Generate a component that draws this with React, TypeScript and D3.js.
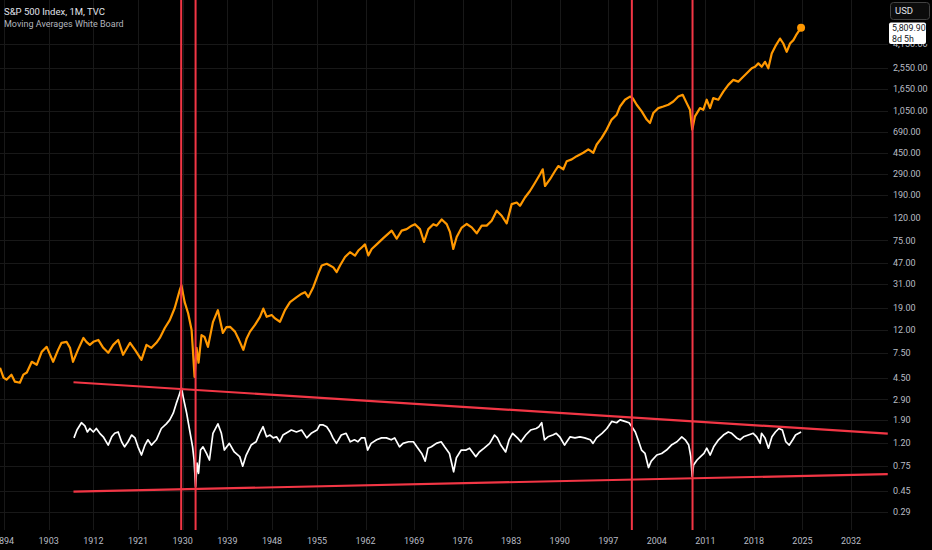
import { useEffect, useRef } from 'react'
import * as d3 from 'd3'

// S&P 500 monthly close (decimal year, index level)
const spx: [number, number][] = [
  [1893.2, 5.54], [1893.9, 4.53], [1894.5, 4.34], [1895.5, 4.81], [1896.2, 4.17], [1897.2, 4.08],
  [1897.9, 4.81], [1898.6, 5.03], [1899.6, 6.26], [1900.6, 5.89], [1901.6, 7.67], [1902.6, 8.5],
  [1903.3, 7.22], [1903.9, 6.26], [1904.9, 7.99], [1905.6, 9.23], [1906.6, 9.42], [1907.3, 8.33],
  [1907.9, 6.26], [1908.9, 7.99], [1910.0, 10.2], [1910.6, 9.42], [1911.3, 8.85], [1912.0, 9.42],
  [1913.0, 9.79], [1914.0, 8.33], [1915.0, 7.52], [1916.0, 8.85], [1917.0, 9.79], [1918.0, 7.22],
  [1919.4, 9.23], [1920.4, 7.99], [1921.7, 6.52], [1922.7, 8.85], [1923.7, 8.33], [1924.7, 9.23],
  [1925.4, 10.2], [1926.4, 12.5], [1927.4, 14.7], [1928.4, 18.8], [1929.4, 27.0], [1929.75, 29.9],
  [1930.4, 21.2], [1931.1, 16.9], [1931.8, 12.0], [1932.4, 4.6], [1932.8, 8.33], [1933.2, 6.14],
  [1933.8, 10.8], [1934.4, 10.4], [1935.1, 8.5], [1936.1, 14.1], [1937.1, 18.0], [1938.1, 11.3],
  [1938.8, 12.7], [1939.54, 12.8], [1940.54, 11.6], [1941.21, 10.1], [1942.22, 7.99], [1942.9, 10.1],
  [1943.57, 11.6], [1944.57, 13.3], [1945.58, 15.7], [1946.25, 18.6], [1946.93, 15.7], [1947.94, 16.3],
  [1948.47, 15.2], [1949.24, 14.2], [1950.02, 18.0], [1950.8, 21.2], [1951.84, 23.5], [1952.62, 25.2],
  [1953.13, 26.0], [1953.65, 23.5], [1954.42, 28.8], [1955.19, 38.0], [1955.68, 44.9], [1956.4, 46.5],
  [1956.87, 44.9], [1957.35, 43.2], [1957.84, 39.2], [1958.32, 44.9], [1959.04, 53.4], [1959.76, 58.9],
  [1960.48, 55.0], [1960.96, 60.9], [1961.45, 64.9], [1961.92, 69.1], [1962.4, 55.0], [1962.89, 62.9],
  [1963.61, 69.1], [1964.56, 78.6], [1965.77, 91.5], [1966.49, 77.6], [1967.21, 91.5], [1967.93, 94.4],
  [1968.66, 101.3], [1969.13, 104.5], [1969.85, 94.4], [1970.43, 72.6], [1971.05, 94.4], [1971.77, 104.5],
  [1972.26, 101.3], [1972.98, 115], [1973.7, 104.5], [1974.18, 88.8], [1974.65, 62.9], [1975.14, 80.4],
  [1975.87, 97.5], [1976.59, 104.9], [1977.31, 97.9], [1978.03, 86.7], [1978.75, 101.4], [1979.47, 101.4],
  [1980.19, 112.2], [1980.91, 137.5], [1981.63, 124.1], [1982.35, 106.2], [1983.07, 157.5], [1983.8, 162.7],
  [1984.27, 152.1], [1984.99, 180.2], [1985.71, 206], [1986.44, 244], [1987.16, 290], [1987.55, 321],
  [1987.88, 228], [1988.6, 262], [1989.32, 310], [1989.79, 343], [1990.52, 321], [1991.01, 379],
  [1991.73, 393], [1992.45, 420], [1993.4, 450], [1994.12, 482], [1994.84, 450], [1995.33, 533],
  [1996.05, 610], [1996.77, 723], [1997.49, 887], [1998.22, 981], [1998.69, 1160], [1999.41, 1331],
  [2000.13, 1421], [2000.52, 1375], [2001.1, 1202], [2001.82, 1048], [2002.54, 887], [2003.02, 827],
  [2003.49, 1014], [2004.21, 1122], [2004.94, 1160], [2005.66, 1202], [2006.38, 1284], [2007.1, 1421],
  [2007.73, 1473], [2008.31, 1242], [2008.78, 1086], [2009.11, 723], [2009.5, 947], [2010.22, 1122],
  [2010.7, 1084], [2011.19, 1331], [2011.67, 1122], [2012.14, 1375], [2012.87, 1331], [2013.59, 1573],
  [2014.31, 1805], [2015.03, 1998], [2015.75, 1927], [2016.24, 2065], [2016.97, 2286], [2017.69, 2531],
  [2018.17, 2614], [2018.64, 2801], [2019.13, 2614], [2019.6, 2893], [2020.08, 2531], [2020.57, 3432],
  [2021.19, 4072], [2021.77, 4655], [2022.24, 4205], [2022.73, 3545], [2023.21, 4205], [2023.69, 4506],
  [2024.08, 4988], [2024.8, 5809.9],
]

// "Moving Averages White Board" ratio line
const ratio: [number, number][] = [
  [1908.1, 1.32], [1908.7, 1.55], [1909.6, 1.8], [1910.3, 1.69], [1910.8, 1.49], [1911.3, 1.6],
  [1912.0, 1.49], [1912.6, 1.6], [1913.3, 1.45], [1914.0, 1.35], [1915.0, 1.14], [1915.7, 1.35],
  [1916.3, 1.45], [1917.0, 1.49], [1917.7, 1.22], [1918.3, 1.1], [1919.0, 1.22], [1919.7, 1.4],
  [1920.4, 1.32], [1921.0, 1.1], [1921.7, 0.93], [1922.4, 1.14], [1923.0, 1.27], [1923.7, 1.14],
  [1924.7, 1.27], [1925.7, 1.6], [1926.7, 1.76], [1927.4, 1.91], [1928.1, 2.19], [1928.7, 2.66],
  [1929.3, 3.18], [1929.75, 3.66], [1930.1, 3.06], [1930.8, 2.19], [1931.4, 1.55], [1932.0, 1.1],
  [1932.3, 0.84], [1932.6, 0.49], [1932.9, 0.79], [1933.2, 0.64], [1933.6, 1.03], [1934.1, 1.1],
  [1934.8, 0.96], [1935.4, 0.84], [1936.1, 1.45], [1937.1, 1.76], [1937.8, 1.45], [1938.4, 1.03],
  [1939.4, 1.18], [1940.4, 0.99], [1941.5, 0.9], [1942.1, 0.74], [1942.8, 0.93], [1943.8, 1.14],
  [1944.8, 1.22], [1945.5, 1.45], [1946.2, 1.66], [1946.9, 1.35], [1947.6, 1.4], [1948.2, 1.32],
  [1948.7, 1.35], [1949.2, 1.22], [1949.7, 1.4], [1950.5, 1.49], [1951.0, 1.55], [1951.8, 1.49],
  [1952.6, 1.55], [1953.4, 1.32], [1954.1, 1.45], [1955.0, 1.55], [1955.4, 1.72], [1955.9, 1.72],
  [1956.4, 1.66], [1956.9, 1.49], [1957.3, 1.32], [1957.8, 1.18], [1958.5, 1.4], [1959.2, 1.45],
  [1959.8, 1.22], [1960.4, 1.27], [1960.9, 1.22], [1961.4, 1.32], [1961.9, 1.32], [1962.3, 1.03],
  [1962.8, 1.18], [1963.6, 1.27], [1964.3, 1.32], [1965.0, 1.32], [1965.7, 1.27], [1966.2, 1.32],
  [1966.9, 1.1], [1967.4, 1.18], [1968.2, 1.22], [1968.9, 1.22], [1969.4, 1.1], [1970.1, 0.96],
  [1970.6, 0.82], [1971.0, 1.07], [1971.5, 1.1], [1972.2, 1.18], [1972.9, 1.22], [1973.4, 1.1],
  [1974.1, 0.96], [1974.7, 0.66], [1975.1, 0.88], [1975.8, 1.03], [1976.5, 1.03], [1977.0, 1.07],
  [1977.4, 0.99], [1977.9, 0.9], [1978.4, 0.99], [1979.1, 1.07], [1979.9, 1.18], [1980.6, 1.4],
  [1981.0, 1.32], [1981.5, 1.14], [1982.2, 0.99], [1982.7, 1.27], [1983.2, 1.45], [1983.9, 1.32],
  [1984.4, 1.22], [1985.1, 1.4], [1985.8, 1.55], [1986.6, 1.6], [1987.0, 1.66], [1987.4, 1.8],
  [1987.8, 1.27], [1988.3, 1.35], [1989.0, 1.4], [1989.5, 1.45], [1990.0, 1.35], [1990.7, 1.14],
  [1991.5, 1.35], [1992.2, 1.32], [1992.9, 1.35], [1993.6, 1.32], [1994.4, 1.27], [1994.8, 1.18],
  [1995.3, 1.32], [1996.1, 1.45], [1996.8, 1.6], [1997.5, 1.85], [1998.2, 1.8], [1998.7, 1.91],
  [1999.4, 1.85], [2000.0, 1.8], [2000.4, 1.66], [2000.9, 1.49], [2001.3, 1.27], [2001.8, 1.03],
  [2002.3, 0.96], [2002.8, 0.72], [2003.2, 0.82], [2004.0, 0.93], [2004.7, 0.96], [2005.4, 1.03],
  [2006.1, 1.14], [2006.9, 1.22], [2007.6, 1.35], [2008.1, 1.27], [2008.6, 1.14], [2008.9, 0.9],
  [2009.1, 0.6], [2009.3, 0.76], [2009.8, 0.84], [2010.3, 0.9], [2010.8, 0.96], [2011.2, 1.07],
  [2011.7, 0.93], [2012.2, 1.1], [2012.9, 1.27], [2013.6, 1.4], [2014.3, 1.49], [2014.8, 1.45],
  [2015.5, 1.32], [2016.0, 1.27], [2016.5, 1.35], [2017.2, 1.4], [2017.9, 1.45], [2018.4, 1.35],
  [2018.9, 1.18], [2019.1, 1.45], [2019.6, 1.32], [2020.1, 1.07], [2020.6, 1.35], [2021.1, 1.49],
  [2021.6, 1.6], [2022.1, 1.55], [2022.6, 1.22], [2023.1, 1.14], [2023.6, 1.27], [2024.0, 1.4],
  [2024.8, 1.49],
]

const yearTicks = [1894, 1903, 1912, 1921, 1930, 1939, 1948, 1955, 1962, 1969, 1976, 1983, 1990, 1997, 2004, 2011, 2018, 2025, 2032]
const priceTicks = [4150, 2550, 1650, 1050, 690, 450, 290, 190, 120, 75, 47, 31, 19, 12, 7.5, 4.5, 2.9, 1.9, 1.2, 0.75, 0.45, 0.29]
// crash markers: Sep 1929, Jun 1932, Aug 2000, Mar 2009
const eventYears = [1929.7, 1932.6, 2000.4, 2009.15]
const upperTrend: [number, number][] = [[1908, 4.12], [2037.3, 1.44]]
const lowerTrend: [number, number][] = [[1908, 0.44], [2037.3, 0.63]]
const lastPrice = 5809.9

const W = 932
const H = 550
const plotW = 888
const plotH = 530
const FONT = 'Roboto, "Noto Sans", sans-serif'

export default function App() {
  const ref = useRef<SVGSVGElement>(null)

  useEffect(() => {
    if (!ref.current) return
    const svg = d3.select(ref.current)
    svg.selectAll('*').remove()

    // time axis is bar based, so earlier years are packed a bit tighter
    const x = d3.scaleLinear().domain([1894, 1948, 1955, 2032]).range([4, 272, 317, 851])
    const y = d3.scaleLog().domain([0.29, lastPrice]).range([512, 27.7])

    svg.append('rect').attr('width', W).attr('height', H).attr('fill', '#000')

    const defs = svg.append('defs')
    defs.append('clipPath').attr('id', 'plot')
      .append('rect').attr('width', plotW).attr('height', plotH)
    // price labels sit under the last-price tag
    defs.append('clipPath').attr('id', 'scale')
      .append('rect').attr('x', plotW).attr('y', 44).attr('width', W - plotW).attr('height', plotH - 44)

    // grid
    const grid = svg.append('g').attr('stroke', '#181818').attr('stroke-width', 1)
    grid.selectAll('.hg').data(priceTicks).enter().append('line')
      .attr('x1', 0).attr('x2', plotW)
      .attr('y1', d => Math.round(y(d)) + 0.5).attr('y2', d => Math.round(y(d)) + 0.5)
    grid.selectAll('.vg').data(yearTicks).enter().append('line')
      .attr('y1', 0).attr('y2', plotH)
      .attr('x1', d => Math.round(x(d)) + 0.5).attr('x2', d => Math.round(x(d)) + 0.5)

    const plot = svg.append('g').attr('clip-path', 'url(#plot)')
    const line = d3.line<[number, number]>().x(d => x(d[0])).y(d => y(d[1]))

    plot.append('path').datum(spx)
      .attr('d', line).attr('fill', 'none')
      .attr('stroke', '#ff9800').attr('stroke-width', 2.2).attr('stroke-linejoin', 'round')

    plot.append('path').datum(ratio)
      .attr('d', line).attr('fill', 'none')
      .attr('stroke', '#ffffff').attr('stroke-width', 1.7).attr('stroke-linejoin', 'round')

    // trend channel
    plot.selectAll('.trend').data([upperTrend, lowerTrend]).enter().append('path')
      .attr('d', d => line(d))
      .attr('stroke', '#f23645').attr('stroke-width', 2.2).attr('fill', 'none')

    // vertical markers
    plot.selectAll('.ev').data(eventYears).enter().append('line')
      .attr('x1', d => x(d)).attr('x2', d => x(d))
      .attr('y1', 0).attr('y2', plotH)
      .attr('stroke', '#f23645').attr('stroke-width', 2)

    const last = spx[spx.length - 1]
    plot.append('circle')
      .attr('cx', x(last[0])).attr('cy', y(last[1])).attr('r', 4)
      .attr('fill', '#ff9800')

    // price scale
    svg.append('g').attr('clip-path', 'url(#scale)')
      .selectAll('text').data(priceTicks).enter().append('text')
      .attr('x', 893).attr('y', d => y(d))
      .attr('dy', '0.35em')
      .attr('font-family', FONT).attr('font-size', 9)
      .attr('fill', '#b8bcc4')
      .text(d => d3.format(',.2f')(d))

    // time scale
    svg.append('g').selectAll('text').data(yearTicks).enter().append('text')
      .attr('x', d => x(d)).attr('y', 541)
      .attr('dy', '0.35em').attr('text-anchor', 'middle')
      .attr('font-family', FONT).attr('font-size', 9)
      .attr('fill', '#b8bcc4')
      .text(d => String(d))

    // last price tag
    const tag = svg.append('g')
    tag.append('rect').attr('x', 889).attr('y', 22.5).attr('width', 37).attr('height', 21.5)
      .attr('rx', 2).attr('fill', '#ffffff')
    tag.append('text').attr('x', 892).attr('y', y(lastPrice)).attr('dy', '0.35em')
      .attr('font-family', FONT).attr('font-size', 8.8).attr('fill', '#131722')
      .text(d3.format(',.2f')(lastPrice))
    tag.append('text').attr('x', 892).attr('y', 38.5).attr('dy', '0.35em')
      .attr('font-family', FONT).attr('font-size', 8.8).attr('fill', '#131722')
      .text('8d 5h')

    // currency button
    svg.append('rect').attr('x', 890.5).attr('y', 2.5).attr('width', 39).attr('height', 17)
      .attr('rx', 3).attr('fill', '#0c0c0c').attr('stroke', '#434343')
    svg.append('text').attr('x', 895).attr('y', 11).attr('dy', '0.35em')
      .attr('font-family', FONT).attr('font-size', 9.5).attr('fill', '#e0e3eb')
      .text('USD')

    // legend
    svg.append('text').attr('x', 4).attr('y', 12).attr('dy', '0.35em')
      .attr('font-family', FONT).attr('font-size', 9.5).attr('fill', '#e0e3eb')
      .text('S&P 500 Index, 1M, TVC')
    svg.append('text').attr('x', 4).attr('y', 23.5).attr('dy', '0.35em')
      .attr('font-family', FONT).attr('font-size', 9).attr('fill', '#b2b5be')
      .text('Moving Averages White Board')
  }, [])

  return (
    <div style={{ position: 'absolute', left: 0, top: 0, width: W, height: H, background: '#000' }}>
      <svg ref={ref} width={W} height={H} style={{ display: 'block' }} />
    </div>
  )
}
